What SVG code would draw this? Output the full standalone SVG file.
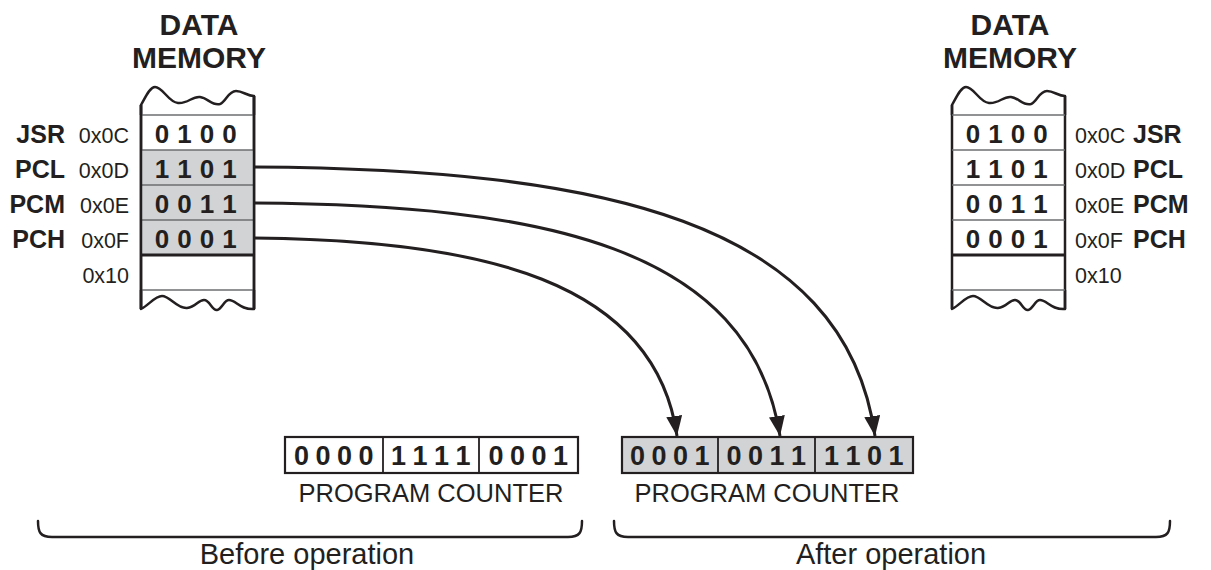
<svg xmlns="http://www.w3.org/2000/svg" width="1211" height="570" viewBox="0 0 1211 570">
<defs>
<style>
text{font-family:"Liberation Sans",Arial,Helvetica,sans-serif;fill:#231f20}
.title{font-size:30px;font-weight:bold;text-anchor:middle}
.lbl{font-size:25px;font-weight:bold}
.hex{font-size:21.5px}
.val{font-size:26px;font-weight:bold;text-anchor:middle}
.pcv{font-size:27px;font-weight:bold;text-anchor:middle}
.cap{font-size:25.5px;text-anchor:middle}
.op{font-size:29px;text-anchor:middle}
.side{fill:none;stroke:#231f20;stroke-width:2.5}
.wave{fill:none;stroke:#231f20;stroke-width:2.5;stroke-linejoin:round}
.thin{stroke:#6d6e71;stroke-width:1.3}
.thick{stroke:#231f20;stroke-width:3}
.shade{fill:#d1d3d4}
.box{fill:none;stroke:#231f20;stroke-width:2.2}
.div{stroke:#231f20;stroke-width:1.8}
.conn{fill:none;stroke:#231f20;stroke-width:3}
.brace{fill:none;stroke:#231f20;stroke-width:2.5;stroke-linecap:round}
</style>
<marker id="ah" viewBox="0 0 20 16" refX="20" refY="8" markerWidth="20" markerHeight="16" markerUnits="userSpaceOnUse" orient="auto">
<path d="M0,0 L20,8 L0,16 z" fill="#231f20"/>
</marker>
<g id="memshape">
<rect x="141" y="115" width="113" height="175" fill="#fff"/>
<path class="wave" d="M141,115 V105 C146,96 150,87 155,87 C163,87 168,102 178,103 C188,104 192,96 200,97 C208,98 212,106 220,104 C226,102 228,91 236,91 C243,91 247,96 254,96 V115"/>
<path class="wave" d="M141,290 V309 C149,305 155,296 162,296 C170,296 177,309 187,308 C196,307 198,300 204,300 C210,300 212,311 217,310 C222,309 224,300 229,300 C236,300 240,310 254,309 V290"/>
<line class="side" x1="141" y1="105" x2="141" y2="309"/>
<line class="side" x1="254" y1="96" x2="254" y2="309"/>
</g>
</defs>

<g id="memory-before">
<text class="title" x="199" y="35">DATA</text>
<text class="title" x="199" y="68">MEMORY</text>
<use href="#memshape"/>
<rect class="shade" x="142" y="150" width="111" height="105"/>
<line class="thin" x1="141" y1="115" x2="254" y2="115"/>
<line class="thin" x1="141" y1="150" x2="254" y2="150"/>
<line class="thin" x1="141" y1="185" x2="254" y2="185"/>
<line class="thin" x1="141" y1="220" x2="254" y2="220"/>
<line class="thick" x1="141" y1="255" x2="254" y2="255"/>
<line class="thin" x1="141" y1="290" x2="254" y2="290"/>
<line class="side" x1="141" y1="105" x2="141" y2="309"/>
<line class="side" x1="254" y1="96" x2="254" y2="309"/>
<text class="val" x="162 184.5 207 229.5" y="143">0100</text>
<text class="val" x="162 184.5 207 229.5" y="178">1101</text>
<text class="val" x="162 184.5 207 229.5" y="213">0011</text>
<text class="val" x="162 184.5 207 229.5" y="248">0001</text>
<text class="hex" x="129" y="143" text-anchor="end">0x0C</text>
<text class="hex" x="129" y="178" text-anchor="end">0x0D</text>
<text class="hex" x="129" y="213" text-anchor="end">0x0E</text>
<text class="hex" x="129" y="248" text-anchor="end">0x0F</text>
<text class="hex" x="129" y="283" text-anchor="end">0x10</text>
<text class="lbl" x="65" y="143" text-anchor="end">JSR</text>
<text class="lbl" x="65" y="178" text-anchor="end">PCL</text>
<text class="lbl" x="65" y="213" text-anchor="end">PCM</text>
<text class="lbl" x="65" y="248" text-anchor="end">PCH</text>
</g>

<g id="memory-after">
<text class="title" x="1010" y="35">DATA</text>
<text class="title" x="1010" y="68">MEMORY</text>
<use href="#memshape" transform="translate(811,0)"/>
<line class="thin" x1="952" y1="115" x2="1065" y2="115"/>
<line class="thin" x1="952" y1="150" x2="1065" y2="150"/>
<line class="thin" x1="952" y1="185" x2="1065" y2="185"/>
<line class="thin" x1="952" y1="220" x2="1065" y2="220"/>
<line class="thick" x1="952" y1="255" x2="1065" y2="255"/>
<line class="thin" x1="952" y1="290" x2="1065" y2="290"/>
<text class="val" x="973 995.5 1018 1040.5" y="143">0100</text>
<text class="val" x="973 995.5 1018 1040.5" y="178">1101</text>
<text class="val" x="973 995.5 1018 1040.5" y="213">0011</text>
<text class="val" x="973 995.5 1018 1040.5" y="248">0001</text>
<text class="hex" x="1075" y="143">0x0C</text>
<text class="hex" x="1075" y="178">0x0D</text>
<text class="hex" x="1075" y="213">0x0E</text>
<text class="hex" x="1075" y="248">0x0F</text>
<text class="hex" x="1075" y="283">0x10</text>
<text class="lbl" x="1133" y="143">JSR</text>
<text class="lbl" x="1133" y="178">PCL</text>
<text class="lbl" x="1133" y="213">PCM</text>
<text class="lbl" x="1133" y="248">PCH</text>
</g>

<g id="pc-before">
<rect x="285" y="437" width="293" height="36" fill="#fff" class="box"/>
<line class="div" x1="383" y1="437" x2="383" y2="473"/>
<line class="div" x1="479" y1="437" x2="479" y2="473"/>
<text class="pcv" x="301.5 323 344.5 366" y="465">0000</text>
<text class="pcv" x="398.5 420 441.5 463" y="465">1111</text>
<text class="pcv" x="496 517.5 539 560.5" y="465">0001</text>
<text class="cap" x="431" y="502">PROGRAM COUNTER</text>
</g>

<g id="pc-after">
<rect x="622" y="437" width="291" height="36" class="shade"/>
<rect x="622" y="437" width="291" height="36" class="box"/>
<line class="div" x1="718" y1="437" x2="718" y2="473"/>
<line class="div" x1="815" y1="437" x2="815" y2="473"/>
<text class="pcv" x="637.5 659 680.5 702" y="465">0001</text>
<text class="pcv" x="734 755.5 777 798.5" y="465">0011</text>
<text class="pcv" x="831.5 853 874.5 896" y="465">1101</text>
<text class="cap" x="767" y="502">PROGRAM COUNTER</text>
</g>

<g id="before-label">
<path class="brace" d="M38,521 C38,532 40,537 52,537 H568 C580,537 582,532 582,521"/>
<text class="op" x="307" y="564">Before operation</text>
</g>

<g id="after-label">
<path class="brace" d="M614,521 C614,532 616,537 628,537 H1156 C1168,537 1170,532 1170,521"/>
<text class="op" x="891" y="564">After operation</text>
</g>

<g id="connectors">
<path class="conn" marker-end="url(#ah)" d="M254,167 C600,169 845,220 875,436"/>
<path class="conn" marker-end="url(#ah)" d="M254,203 C540,205 750,245 780,436"/>
<path class="conn" marker-end="url(#ah)" d="M254,238 C480,240 655,280 677,436"/>
</g>
</svg>
